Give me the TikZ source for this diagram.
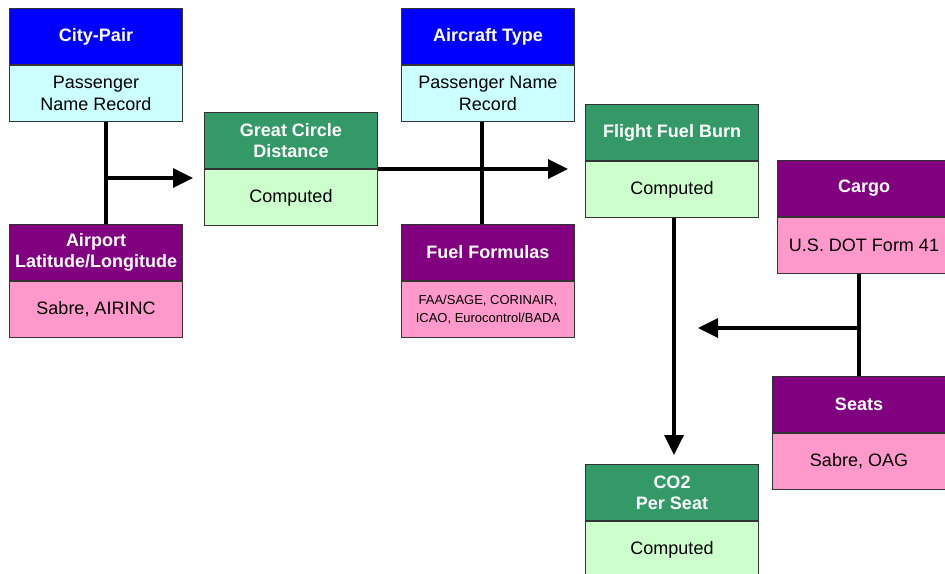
\documentclass[tikz,border=0pt]{standalone}
\usepackage{fontspec}
\setmainfont{Liberation Sans}
\usetikzlibrary{arrows.meta,positioning}
\definecolor{hdblue}{RGB}{0,0,255}
\definecolor{bdcyan}{RGB}{204,255,255}
\definecolor{hdgreen}{RGB}{51,153,102}
\definecolor{bdgreen}{RGB}{204,255,204}
\definecolor{hdpurple}{RGB}{128,0,128}
\definecolor{bdpink}{RGB}{255,153,204}
\newcommand{\hdfont}{\fontsize{18}{21}\selectfont\bfseries}
\newcommand{\bdfont}{\fontsize{18}{22}\selectfont}
\newcommand{\smfont}{\fontsize{13}{18}\selectfont}
\tikzstyle{box}=[draw=black!80,line width=1pt,minimum width=173pt,minimum height=56pt,inner sep=0pt,align=center]
\tikzstyle{head}=[box,anchor=north west,text=white,font=\hdfont]
\tikzstyle{body}=[box,text=black]
\tikzstyle{link}=[draw,line width=3.5pt]
\tikzstyle{flow}=[link,-{Triangle[length=20pt,width=19pt]}]

\begin{document}
\begin{tikzpicture}[x=1pt,y=-1pt]
    \clip (0,0) rectangle (945,573);
    % Draw the data sources and computed values
    % First the coloured title of each box
    \foreach \pos/\name/\col/\txt in {{(9,8)/pair/hdblue/City-Pair},
        {(9,224)/airport/hdpurple/{Airport\\Latitude/Longitude}},
        {(204,112)/gcd/hdgreen/{Great Circle\\Distance}},
        {(401,8)/aircraft/hdblue/Aircraft Type},
        {(401,224)/fuel/hdpurple/Fuel Formulas},
        {(585,104)/burn/hdgreen/Flight Fuel Burn},
        {(777,160)/cargo/hdpurple/Cargo},
        {(772,376)/seats/hdpurple/Seats},
        {(585,464)/co2/hdgreen/{CO2\\Per Seat}}}
        \node[head,fill=\col] (\name) at \pos {\txt};

    % Then the source below each title
    \foreach \name/\col/\fnt/\txt in {{pair/bdcyan/\bdfont/{Passenger\\Name Record}},
        {airport/bdpink/\bdfont/{Sabre, AIRINC}},
        {gcd/bdgreen/\bdfont/Computed},
        {aircraft/bdcyan/\bdfont/{Passenger Name\\Record}},
        {fuel/bdpink/\smfont/{FAA/SAGE, CORINAIR,\\ICAO, Eurocontrol/BADA}},
        {burn/bdgreen/\bdfont/Computed},
        {cargo/bdpink/\bdfont/{U.S. DOT Form 41}},
        {seats/bdpink/\bdfont/{Sabre, OAG}},
        {co2/bdgreen/\bdfont/Computed}}
        \node[body,fill=\col,font=\fnt,below=0pt of \name] (\name b) {\txt};

    % Connect the boxes
    \coordinate (j1) at ([xshift=10pt,yshift=-56pt]pairb.south);
    \coordinate (j3) at ([yshift=48pt]seats.north);
    \path[link] ([xshift=10pt]pairb.south) -- ([xshift=10pt]airport.north);
    \path[flow,shorten >=11pt] (j1) -- (j1 -| gcdb.west);
    \path[link] ([xshift=-6pt]aircraftb.south) -- ([xshift=-6pt]fuel.north);
    \path[flow,shorten >=17pt] (gcd.south east) -- (gcd.south east -| burnb.west);
    \path[flow,shorten >=9pt] ([xshift=2pt]burnb.south) -- ([xshift=2pt]co2.north);
    \path[link] (cargob.south -| seats.north) -- (seats.north);
    \path[flow,shorten >=26pt] (j3) -- (j3 -| burnb.south);
\end{tikzpicture}
\end{document}
